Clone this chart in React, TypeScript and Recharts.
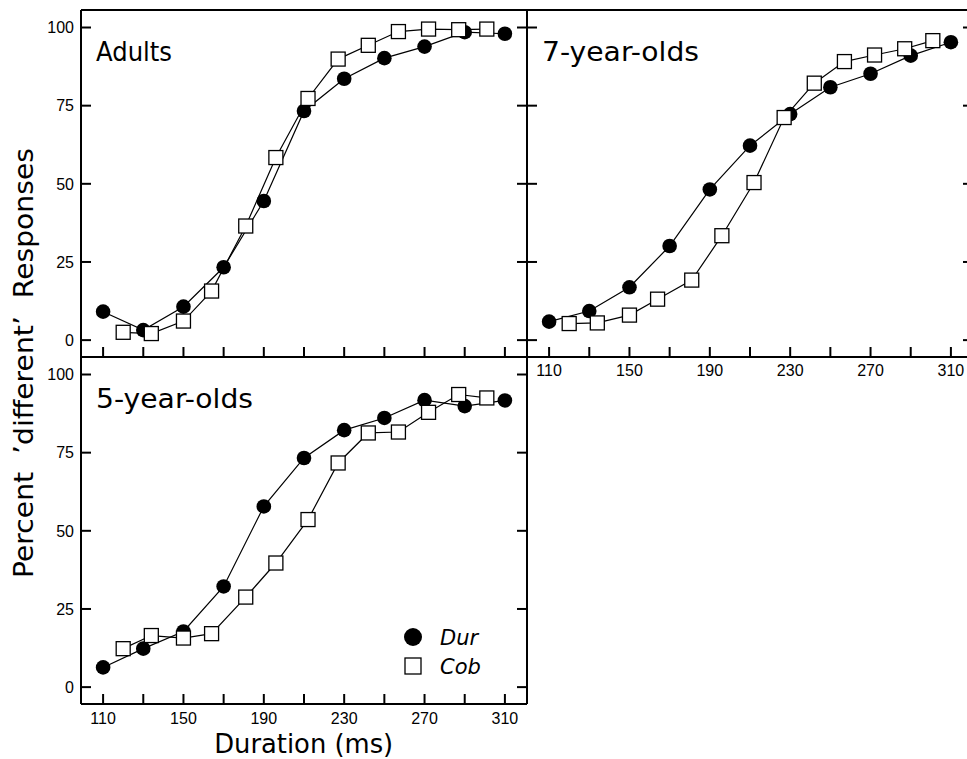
import { LineChart, Line, XAxis, YAxis } from "recharts";

// durations (ms)
const durX = [110, 130, 150, 170, 190, 210, 230, 250, 270, 290, 310];
const cobX = [120, 134, 150, 164, 181, 196, 212, 227, 242, 257, 272, 287, 301];
const xTicks = [110, 130, 150, 170, 190, 210, 230, 250, 270, 290, 310];
const xLabelTicks = [110, 150, 190, 230, 270, 310];
const yTicks = [0, 25, 50, 75, 100];

// percent 'different' responses
const adultsDur = [9.1, 3.2, 10.7, 23.3, 44.5, 73.3, 83.6, 90.2, 93.9, 98.5, 98.0];
const adultsCob = [2.5, 2.1, 6.1, 15.7, 36.5, 58.4, 77.3, 89.9, 94.3, 98.7, 99.5, 99.3, 99.5];
const sevenDur = [5.9, 9.3, 16.9, 30.1, 48.2, 62.2, 72.3, 80.9, 85.2, 91.0, 95.3];
const sevenCob = [5.3, 5.5, 8.0, 13.1, 19.2, 33.4, 50.4, 71.2, 82.2, 89.1, 91.2, 93.2, 95.8];
const fiveDur = [6.3, 12.3, 17.8, 32.2, 57.8, 73.3, 82.2, 86.1, 91.8, 89.9, 91.7];
const fiveCob = [12.3, 16.5, 15.7, 17.1, 28.8, 39.7, 53.6, 71.7, 81.3, 81.6, 87.9, 93.6, 92.5];

const X_DOMAIN: [number, number] = [99, 321];
const Y_DOMAIN: [number, number] = [-5.4, 105.6];
const PW = 446;
const PH = 347;
const LEFT = 50;
const EDGE = 6;
const BOTTOM = 40;
const TICK = 10;

const frame = { stroke: "#000", strokeWidth: 2 };
const FONT = "Liberation Sans, sans-serif";
const TICK_FS = 16;

// inward tick marks drawn by the axis tick renderer; labels optional
const makeTick =
  (side: "bottom" | "top" | "left" | "right", labels: boolean, gap = 0) =>
  (p: any) => {
    const { x, y, payload, index } = p;
    const v = payload.value;
    const k = `${side}-${index}`;
    if (side === "bottom") {
      return (
        <g key={k}>
          <line x1={x} x2={x} y1={y} y2={y - TICK} stroke="#000" strokeWidth={2} />
          {labels && xLabelTicks.includes(v) && (
            <text x={x} y={y + gap} textAnchor="middle" fontSize={TICK_FS} fontFamily={FONT} fill="#000">
              {v}
            </text>
          )}
        </g>
      );
    }
    if (side === "top") {
      return <line key={k} x1={x} x2={x} y1={y} y2={y + TICK} stroke="#000" strokeWidth={2} />;
    }
    if (side === "left") {
      return (
        <g key={k}>
          <line x1={x} x2={x + TICK} y1={y} y2={y} stroke="#000" strokeWidth={2} />
          {labels && (
            <text x={x - 7} y={y} dy="0.36em" textAnchor="end" fontSize={TICK_FS} fontFamily={FONT} fill="#000">
              {v}
            </text>
          )}
        </g>
      );
    }
    return <line key={k} x1={x} x2={x - TICK} y1={y} y2={y} stroke="#000" strokeWidth={2} />;
  };

const Square = (p: any) => (
  <rect
    key={`sq-${p.index}`}
    x={p.cx - 7}
    y={p.cy - 7}
    width={14}
    height={14}
    fill="#fff"
    stroke="#000"
    strokeWidth={1.3}
  />
);

type PanelProps = {
  px: number;
  py: number;
  dur: number[];
  cob: number[];
  xLabels: boolean;
  yLabels: boolean;
  labelGap: number;
};

const Panel = ({ px, py, dur, cob, xLabels, yLabels, labelGap }: PanelProps) => {
  const durData = durX.map((x, i) => ({ x, v: dur[i] }));
  const cobData = cobX.map((x, i) => ({ x, v: cob[i] }));
  return (
    <div style={{ position: "absolute", left: px - LEFT, top: py - EDGE }}>
      <LineChart
        width={LEFT + PW + EDGE}
        height={EDGE + PH + BOTTOM}
        margin={{ top: 0, right: 0, bottom: 0, left: 0 }}
      >
        <XAxis
          xAxisId="b"
          dataKey="x"
          type="number"
          domain={X_DOMAIN}
          ticks={xTicks}
          interval={0}
          allowDataOverflow
          height={BOTTOM}
          axisLine={frame}
          tickLine={false}
          tickSize={0}
          tickMargin={0}
          tick={makeTick("bottom", xLabels, labelGap)}
        />
        <XAxis
          xAxisId="t"
          orientation="top"
          type="number"
          domain={X_DOMAIN}
          ticks={xTicks}
          interval={0}
          allowDataOverflow
          height={EDGE}
          axisLine={frame}
          tickLine={false}
          tickSize={0}
          tickMargin={0}
          tick={makeTick("top", false)}
        />
        <YAxis
          yAxisId="l"
          type="number"
          domain={Y_DOMAIN}
          ticks={yTicks}
          interval={0}
          allowDataOverflow
          width={LEFT}
          axisLine={frame}
          tickLine={false}
          tickSize={0}
          tickMargin={0}
          tick={makeTick("left", yLabels)}
        />
        <YAxis
          yAxisId="r"
          orientation="right"
          type="number"
          domain={Y_DOMAIN}
          ticks={yTicks}
          interval={0}
          allowDataOverflow
          width={EDGE}
          axisLine={frame}
          tickLine={false}
          tickSize={0}
          tickMargin={0}
          tick={makeTick("right", false)}
        />
        <Line
          xAxisId="b"
          yAxisId="l"
          data={durData}
          dataKey="v"
          stroke="#000"
          strokeWidth={1.2}
          dot={{ r: 7.3, fill: "#000", stroke: "#000", strokeWidth: 0 }}
          isAnimationActive={false}
        />
        <Line
          xAxisId="b"
          yAxisId="l"
          data={cobData}
          dataKey="v"
          stroke="#000"
          strokeWidth={1.2}
          dot={Square}
          isAnimationActive={false}
        />
      </LineChart>
    </div>
  );
};

const App = () => {
  return (
    <div
      style={{
        position: "absolute",
        left: 0,
        top: 0,
        width: 967,
        height: 759,
        overflow: "hidden",
        background: "#fff",
      }}
    >
      <Panel px={81} py={10} dur={adultsDur} cob={adultsCob} xLabels={false} yLabels labelGap={18.5} />
      <Panel px={527} py={10} dur={sevenDur} cob={sevenCob} xLabels yLabels={false} labelGap={18.5} />
      <Panel px={81} py={357} dur={fiveDur} cob={fiveCob} xLabels yLabels labelGap={19.5} />
      <svg
        width={967}
        height={759}
        style={{ position: "absolute", left: 0, top: 0, pointerEvents: "none" }}
        fontFamily="DejaVu Sans, sans-serif"
      >
        <text x={96} y={61} fontSize={26} textLength={76} lengthAdjust="spacingAndGlyphs">
          Adults
        </text>
        <text x={542} y={61} fontSize={26} textLength={157} lengthAdjust="spacingAndGlyphs">
          7-year-olds
        </text>
        <text x={96} y={408} fontSize={26} textLength={157} lengthAdjust="spacingAndGlyphs">
          5-year-olds
        </text>
        <text
          x={303.7}
          y={753}
          fontSize={27}
          textAnchor="middle"
          textLength={179}
          lengthAdjust="spacingAndGlyphs"
        >
          Duration (ms)
        </text>
        <text
          transform="translate(33,363) rotate(-90)"
          fontSize={27}
          textAnchor="middle"
          textLength={430}
          lengthAdjust="spacingAndGlyphs"
          style={{ whiteSpace: "pre" }}
        >
          {"Percent  \u2019different\u2019  Responses"}
        </text>
        <circle cx={413} cy={637} r={9} fill="#000" />
        <text x={440} y={645} fontSize={21} fontStyle="italic">
          Dur
        </text>
        <rect x={405} y={658} width={16} height={16} fill="#fff" stroke="#000" strokeWidth={1.3} />
        <text x={440} y={674} fontSize={21} fontStyle="italic">
          Cob
        </text>
      </svg>
    </div>
  );
};

export default App;
